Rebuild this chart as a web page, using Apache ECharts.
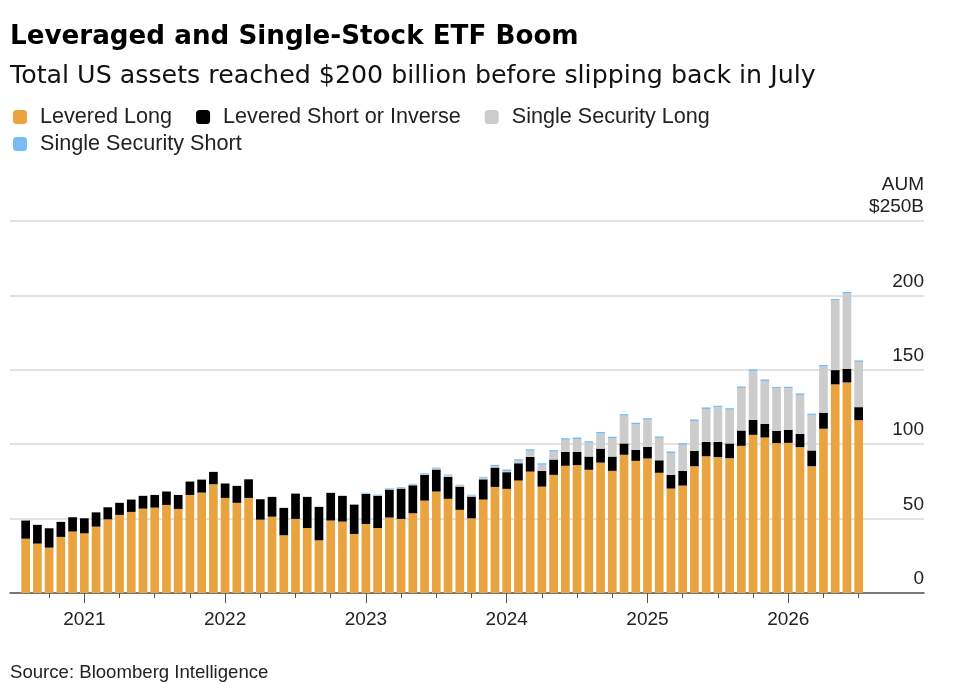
<!DOCTYPE html>
<html>
<head>
<meta charset="utf-8">
<script src="https://cdn.jsdelivr.net/npm/echarts@6/dist/echarts.min.js"></script>
<style>
  html, body { margin: 0; padding: 0; background: #fff; }
  #chart { width: 956px; height: 695px; }
</style>
</head>
<body>
<div id="chart"></div>
<script>
// monthly bars, axis labels as printed on the chart (first bar = Aug 2020)
var firstYear = 2020, firstMonth = 8, barCount = 72, emptySlots = 5;
var months = [];
for (var i = 0; i < barCount + emptySlots; i++) {
    if (i >= barCount) { months.push(''); continue; }
    var m = (firstMonth - 1 + i) % 12 + 1;
    var y = firstYear + Math.floor((firstMonth - 1 + i) / 12);
    months.push(y + '-' + (m < 10 ? '0' + m : m));
}

// $ billions
var leveredLong = [
    36.5, 33.2, 30.5, 37.7, 41.3, 40.1, 44.6, 49.5, 52.5, 54.5, 56.7, 57.4,
    59.2, 56.5, 65.9, 67.5, 73.1, 63.9, 60.6, 63.9, 49.3, 51.3, 38.8, 49.8,
    43.7, 35.4, 48.7, 48.0, 39.7, 46.4, 43.7, 50.7, 49.8, 53.6, 62.1, 68.2,
    63.3, 55.9, 50.2, 62.8, 71.3, 70.0, 75.6, 81.6, 71.5, 79.4, 85.5, 85.9,
    82.8, 87.6, 82.1, 92.9, 88.8, 90.4, 80.8, 70.2, 72.2, 85.2, 91.9, 91.3,
    90.6, 98.9, 106.3, 104.5, 100.7, 100.9, 98.0, 85.2, 110.4, 140.2, 141.5, 116.2
];
var leveredShort = [
    12.2, 12.6, 13.0, 10.1, 9.6, 10.1, 9.6, 8.1, 8.1, 8.3, 8.6, 8.5,
    9.0, 9.4, 9.0, 8.7, 8.3, 9.7, 11.4, 12.5, 13.7, 13.3, 18.4, 17.0,
    20.9, 22.5, 18.6, 17.3, 19.7, 20.2, 21.6, 18.8, 20.4, 18.8, 17.3, 14.8,
    14.8, 15.6, 14.6, 13.6, 13.0, 11.2, 11.6, 9.9, 10.6, 10.3, 9.4, 9.0,
    8.9, 9.4, 9.6, 7.6, 7.4, 7.8, 8.4, 9.2, 9.9, 10.3, 9.7, 10.3,
    9.9, 10.3, 10.1, 9.2, 8.3, 8.8, 9.0, 10.6, 10.7, 9.6, 9.2, 8.7
];
var singleLong = [
    0, 0, 0, 0, 0, 0, 0, 0, 0, 0, 0, 0,
    0, 0, 0, 0, 0, 0, 0, 0, 0, 0, 0, 0,
    0, 0, 0, 0, 0, 0.3, 0.3, 0.3, 0.4, 0.5, 0.8, 0.8,
    1.0, 0.8, 0.8, 1.2, 0.8, 0.8, 1.7, 4.1, 4.1, 5.3, 8.1, 8.6,
    9.3, 10.2, 12.3, 18.7, 17.2, 18.3, 15.0, 14.7, 17.6, 20.1, 22.1, 23.2,
    22.7, 28.6, 32.9, 28.8, 28.4, 27.9, 26.1, 23.7, 31.1, 46.8, 50.6, 30.4
];
var singleShort = [
    0, 0, 0, 0, 0, 0, 0, 0, 0, 0, 0, 0,
    0, 0, 0, 0, 0, 0, 0, 0, 0, 0, 0, 0,
    0, 0, 0, 0, 0, 0.5, 0.5, 0.5, 0.5, 0.5, 0.5, 0.5,
    0.5, 0.5, 0.5, 0.5, 1, 1, 1, 1, 1, 1, 1, 1,
    1, 1, 1, 1, 1, 1, 1, 1, 1, 1, 1, 1,
    1, 1, 1, 1, 1, 1, 1, 1, 1, 1, 1, 1
];

var seriesNames = ['Levered Long', 'Levered Short or Inverse', 'Single Security Long', 'Single Security Short'];
var seriesColors = ['#eaa43f', '#000000', '#cccccc', '#76bdf5'];
var yTicks = [0, 250, 50];  // min, max, step

var FONT = '"Liberation Sans", Arial, sans-serif';
var HEAD_FONT = '"DejaVu Sans", "Liberation Sans", sans-serif';
var chart = echarts.init(document.getElementById('chart'));

function isJan(idx, val) { return /-01$/.test(val); }
function isQuarter(idx, val) { return /-(01|04|07|10)$/.test(val); }

var seriesData = [leveredLong, leveredShort, singleLong, singleShort];
var series = seriesNames.map(function (name, k) {
    return {
        name: name,
        type: 'bar',
        stack: 'aum',
        xAxisIndex: 1,
        yAxisIndex: 1,
        barWidth: 8.7,
        itemStyle: { color: seriesColors[k] },
        data: seriesData[k]
    };
});

var legendBase = {
    left: 8, itemGap: 24, icon: 'roundRect', itemWidth: 14, itemHeight: 14, selectedMode: false,
    textStyle: { fontSize: 21.6, color: '#222', padding: [0, 0, 0, 8], fontFamily: FONT }
};

chart.setOption({
    animation: false,
    textStyle: { fontFamily: FONT },
    title: [
        { text: 'Leveraged and Single-Stock ETF Boom', left: 5, top: 19,
          textStyle: { fontSize: 26.2, fontWeight: 'bold', color: '#000', fontFamily: HEAD_FONT } },
        { text: 'Total US assets reached $200 billion before slipping back in July', left: 5, top: 59,
          textStyle: { fontSize: 25.3, fontWeight: 'normal', color: '#111', fontFamily: HEAD_FONT } },
        { text: 'Source: Bloomberg Intelligence', left: 5, top: 658,
          textStyle: { fontSize: 18.6, fontWeight: 'normal', color: '#222', fontFamily: FONT } }
    ],
    legend: [
        Object.assign({ data: seriesNames.slice(0, 3), top: 101 }, legendBase),
        Object.assign({ data: seriesNames.slice(3), top: 128 }, legendBase)
    ],
    grid: [
        { left: 10, right: 32, top: 221, bottom: 102 },
        { left: 19.8, right: 32.8, top: 221, bottom: 102 }
    ],
    xAxis: [
        { gridIndex: 0, type: 'value', min: 0, max: 1,
          axisLine: { show: true, lineStyle: { color: '#555', width: 1.5 } },
          axisTick: { show: false }, axisLabel: { show: false }, splitLine: { show: false } },
        { gridIndex: 1, type: 'category', data: months, position: 'bottom',
          axisLine: { show: false },
          axisTick: { show: true, alignWithLabel: true, interval: isQuarter, length: 5,
                      lineStyle: { color: '#555', width: 1 } },
          axisLabel: { interval: isJan, margin: 17, fontSize: 19, color: '#222', fontFamily: FONT,
                       formatter: function (v) { return v.slice(0, 4); } },
          splitLine: { show: false } },
        { gridIndex: 1, type: 'category', data: months, position: 'bottom',
          axisLine: { show: false },
          axisTick: { show: true, alignWithLabel: true, interval: isJan, length: 10,
                      lineStyle: { color: '#555', width: 1 } },
          axisLabel: { show: false }, splitLine: { show: false } }
    ],
    yAxis: [
        { gridIndex: 0, type: 'value', position: 'right', min: yTicks[0], max: yTicks[1], interval: yTicks[2],
          axisLine: { show: false }, axisTick: { show: false },
          splitLine: { show: true, lineStyle: { color: '#d9d9d9', width: 1.5 } },
          axisLabel: { inside: true, margin: 0, fontSize: 19, color: '#222', lineHeight: 22,
                       verticalAlign: 'bottom', padding: [0, 0, 3, 0], fontFamily: FONT,
                       formatter: function (v) { return v === yTicks[1] ? 'AUM\n$' + v + 'B' : String(v); } } },
        { gridIndex: 1, type: 'value', min: yTicks[0], max: yTicks[1], show: false }
    ],
    series: series
});
</script>
</body>
</html>
